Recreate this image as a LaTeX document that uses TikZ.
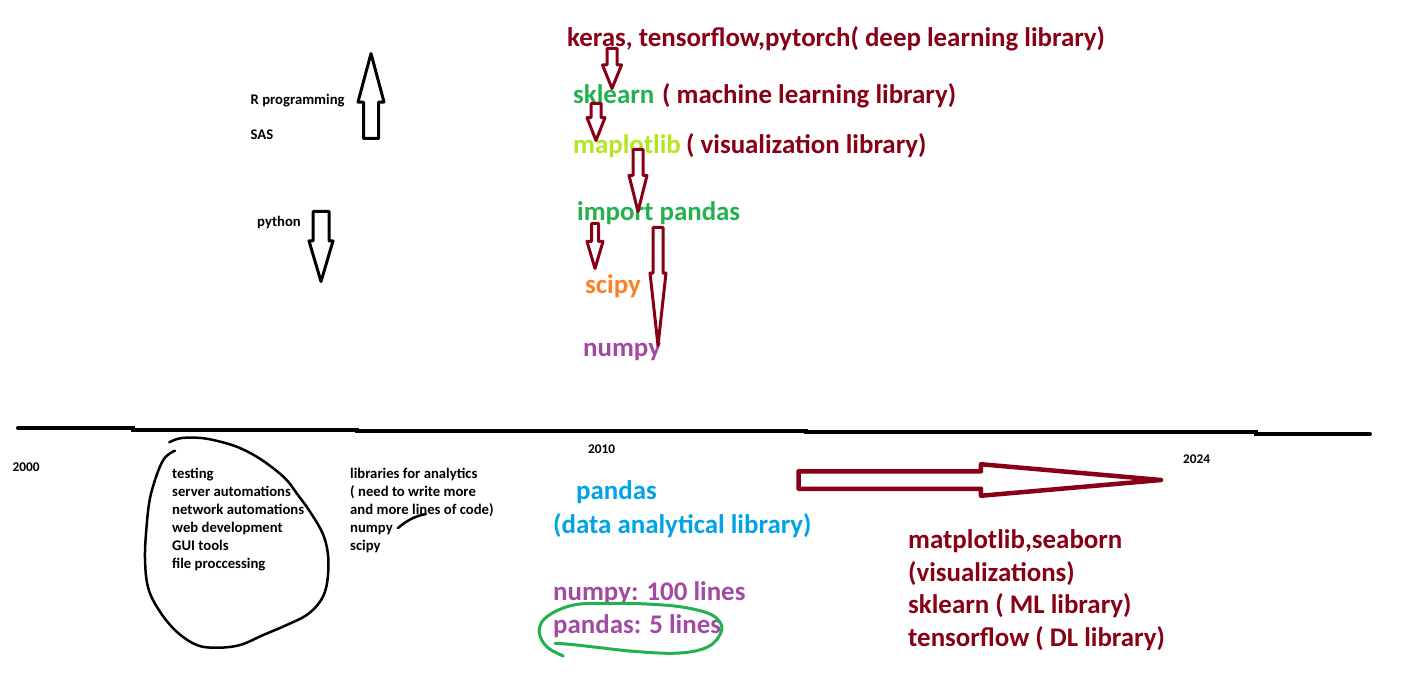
\documentclass[tikz,border=0pt]{standalone}
\usepackage{fontspec}
\setmainfont{Carlito}
\usetikzlibrary{shapes.arrows}
\definecolor{darkred}{HTML}{880015}
\definecolor{pgreen}{HTML}{22B14C}
\definecolor{plime}{HTML}{B5E61D}
\definecolor{porange}{HTML}{FF7F27}
\definecolor{ppurple}{HTML}{A349A4}
\definecolor{pblue}{HTML}{00A2E8}
\tikzset{
  smalltxt/.style = {font=\bfseries\fontsize{14.7}{18}\selectfont, inner sep=0pt, anchor=base west},
  yeartxt/.style = {font=\bfseries\fontsize{13.3}{16}\selectfont, inner sep=0pt, anchor=base west},
  bigtxt/.style = {font=\bfseries\fontsize{26.9}{32}\selectfont, inner sep=0pt, anchor=base west, text=darkred},
  blockarr/.style = {single arrow, draw=darkred, fill=white, line width=3pt, line join=round,
    inner xsep=0pt, outer sep=0pt, minimum width=0pt, anchor=tail},
  pointdown/.style = {rotate=-90},
  pointup/.style = {rotate=90}
}

\begin{document}
\begin{tikzpicture}[x=1pt, y=-1pt]
  \useasboundingbox (0,0) rectangle (1408,695);

  % timeline
  \draw[line width=4pt, line cap=round] (18,428) -- (133,428) -- (133,429.5) -- (357,429.5)
    -- (357,431) -- (806,431) -- (806,432) -- (1256,432) -- (1256,434) -- (1370,434);
  \node[yeartxt] (y2000) at (12.5,471) {2000};
  \node[yeartxt] (y2010) at (588,453) {2010};
  \node[yeartxt] (y2024) at (1183,463) {2024};

  \node[smalltxt] (rprog) at (250.5,105) {R programming};
  \node[smalltxt] (sas) at (250.5,140) {SAS};
  \node[smalltxt] (python) at (257,226) {python};

  \node[bigtxt] (dl) at (567,46.5) {keras, tensorflow,pytorch( deep learning library)};
  \node[bigtxt, text=pgreen] (skl) at (573,103.5) {sklearn};
  \node[bigtxt] (skldesc) at (662,103.5) {( machine learning library)};
  \node[bigtxt, text=plime] (mpl) at (573,153.5) {maplotlib};
  \node[bigtxt] (mpldesc) at (686,153.5) {( visualization library)};
  \node[bigtxt, text=pgreen] (imp) at (577,220.5) {import pandas};
  \node[bigtxt, text=porange] (scipy) at (585,293.5) {scipy};
  \node[bigtxt, text=ppurple] (numpy) at (583,356.5) {numpy};

  \foreach \t [count=\i] in {{testing}, {server automations}, {network automations},
      {web development}, {GUI tools}, {file proccessing}}
    \node[smalltxt] (use\i) at (172,460+18*\i) {\t};
  \foreach \t [count=\i] in {{libraries for analytics}, {( need to write more},
      {and more lines of code)}, {numpy}, {scipy}}
    \node[smalltxt] (lib\i) at (350,460+18*\i) {\t};

  \node[bigtxt, text=pblue] (pd) at (576,499) {pandas};
  \node[bigtxt, text=pblue] (pddesc) at (553,533) {(data analytical library)};
  \node[bigtxt, text=ppurple] (cmp1) at (553,600) {numpy: 100 lines};
  \node[bigtxt, text=ppurple] (cmp2) at (553,633) {pandas: 5 lines};

  \foreach \t [count=\i] in {{matplotlib,seaborn}, {(visualizations)},
      {sklearn ( ML library)}, {tensorflow ( DL library)}}
    \node[bigtxt] (now\i) at (908,516.5+32.4*\i) {\t};

  % scribbles
  \draw[line width=2.5pt, line cap=round] plot[smooth, tension=0.6] coordinates {
    (169.3,442.3) (180,438.3) (196.7,437.7) (213.3,440) (236.7,446.7) (256.7,456.7)
    (273.3,468.3) (286.7,480) (296.7,493.3) (310,511.7) (323.3,535) (328.3,558.3)
    (326.7,585) (320,601.7) (306.7,615) (286.7,625) (263.3,635) (240,645) (216.7,647.7)
    (196.7,645) (176.7,631.7) (160,611.7) (148.3,588.3) (145,558.3) (146.7,525)
    (150,498.3) (156.7,475) (163.3,460) (170,453.3) (175,450.7)};
  \draw[line width=2.5pt, line cap=round] (398,528) .. controls (405,522) and (414,516) .. (426,514);
  \draw[pgreen, line width=3pt, line cap=round] plot[smooth, tension=0.6] coordinates {
    (555,643.3) (570,644.3) (596.7,647.3) (630,651) (670,653.3) (696.7,650.7) (713.3,643.3)
    (721.7,630) (718.3,620) (706.7,612.7) (680,606.7) (646.7,604) (613.3,603.3) (580,604)
    (560,609.3) (545,618.3) (539.3,628.3) (541.7,640) (550,649.3) (563.3,656)};

  % block arrows
  \node[blockarr, draw=black, pointup, inner ysep=6pt, single arrow head extend=5.5pt,
    single arrow tip angle=30, minimum height=85pt] (up) at (371,138.5) {};
  \node[blockarr, draw=black, pointdown, inner ysep=6.5pt, single arrow head extend=4pt,
    single arrow tip angle=33, minimum height=70pt] (down) at (321,211.5) {};
  \node[blockarr, pointdown, inner ysep=3.5pt, single arrow head extend=4.5pt,
    single arrow tip angle=44, minimum height=40pt] (a1) at (612,48.5) {};
  \node[blockarr, pointdown, inner ysep=3.5pt, single arrow head extend=4pt,
    single arrow tip angle=43, minimum height=37pt] (a2) at (596,103.5) {};
  \node[blockarr, pointdown, inner ysep=3.5pt, single arrow head extend=4pt,
    single arrow tip angle=28, minimum height=62pt] (a3) at (638,149.5) {};
  \node[blockarr, pointdown, inner ysep=2pt, single arrow head extend=4.5pt,
    single arrow tip angle=33, minimum height=45pt] (a4) at (595,223.5) {};
  \node[blockarr, pointdown, inner ysep=3.5pt, single arrow head extend=3pt,
    single arrow tip angle=12.6, minimum height=118pt] (a5) at (658,227.5) {};
  \node[blockarr, line width=4.5pt, inner ysep=6.5pt, single arrow head extend=7pt,
    single arrow tip angle=10, minimum height=362.5pt] (trend) at (798.5,480) {};
\end{tikzpicture}
\end{document}
